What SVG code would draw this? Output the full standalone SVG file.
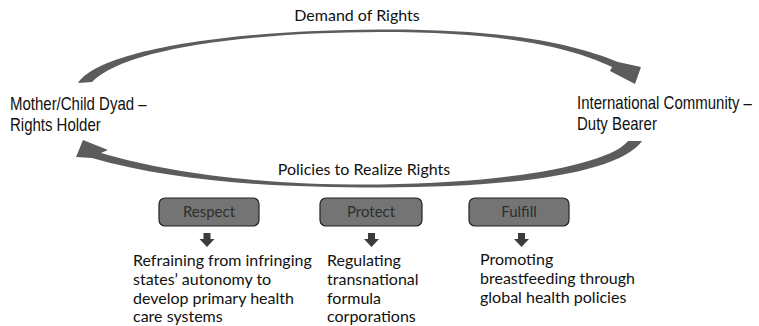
<svg xmlns="http://www.w3.org/2000/svg" width="759" height="326" viewBox="0 0 759 326">
<defs>
<style>
.cal{font-family:Lato,"Open Sans",sans-serif;font-size:16px;fill:#111}
.ari{font-family:"Liberation Sans",Arial,sans-serif;font-size:15px;fill:#111}
.box{fill:#747474;stroke:#222;stroke-width:1.2}
.boxt{font-family:Lato,"Open Sans",sans-serif;font-size:15px;fill:#2e2e2e;text-anchor:middle}
.arc{fill:#5c5c5c}
.dn{fill:#3c3c3c}
</style>
</defs>
<rect width="759" height="326" fill="#fff"/>
<g id="connectors">
<path class="arc" d="M78,83 C100,50 230,30 380,29.5 C500,29 570,42 618,62 L641,67 L635,84 L610,71 L612,67 C568,46 500,32 380,32 C240,32.5 122,50 92,82 Z"/>
<path class="arc" d="M628,141 C612,162 520,183 380,184.5 C260,185.5 170,173 101,153 L108,150 L83,140 L76,157 L92,158 C170,180 260,187.5 380,187.5 C520,187.5 620,172 642,141 Z"/>
</g>
<g id="label-demand"><text class="cal" x="357" y="21" text-anchor="middle">Demand of Rights</text></g>
<g id="label-policies"><text class="cal" x="364" y="175" text-anchor="middle">Policies to Realize Rights</text></g>
<g id="node-holder">
<text class="ari" transform="translate(10,110) scale(1,1.2)">Mother/Child Dyad –</text>
<text class="ari" transform="translate(10,131) scale(1,1.2)">Rights Holder</text>
</g>
<g id="node-bearer">
<text class="ari" transform="translate(577,109) scale(1,1.2)">International Community –</text>
<text class="ari" transform="translate(577,130) scale(1,1.2)">Duty Bearer</text>
</g>
<g id="node-respect">
<rect class="box" x="159" y="198" width="100" height="28" rx="6"/>
<text class="boxt" x="209" y="217">Respect</text>
<path class="dn" d="M203.5,233 h7 v6 h4 l-7.5,8 l-7.5,-8 h4 z"/>
<text class="cal" x="133" y="266">Refraining from infringing</text>
<text class="cal" x="133" y="285">states’ autonomy to</text>
<text class="cal" x="133" y="304">develop primary health</text>
<text class="cal" x="133" y="322">care systems</text>
</g>
<g id="node-protect">
<rect class="box" x="320" y="198" width="102" height="28" rx="6"/>
<text class="boxt" x="371" y="217">Protect</text>
<path class="dn" d="M368,233 h7 v6 h4 l-7.5,8 l-7.5,-8 h4 z"/>
<text class="cal" x="327" y="266">Regulating</text>
<text class="cal" x="327" y="285">transnational</text>
<text class="cal" x="327" y="304">formula</text>
<text class="cal" x="327" y="322">corporations</text>
</g>
<g id="node-fulfill">
<rect class="box" x="469" y="198" width="100" height="28" rx="6"/>
<text class="boxt" x="519" y="217">Fulfill</text>
<path class="dn" d="M518,233 h7 v6 h4 l-7.5,8 l-7.5,-8 h4 z"/>
<text class="cal" x="480" y="265">Promoting</text>
<text class="cal" x="480" y="284">breastfeeding through</text>
<text class="cal" x="480" y="303">global health policies</text>
</g>
</svg>
